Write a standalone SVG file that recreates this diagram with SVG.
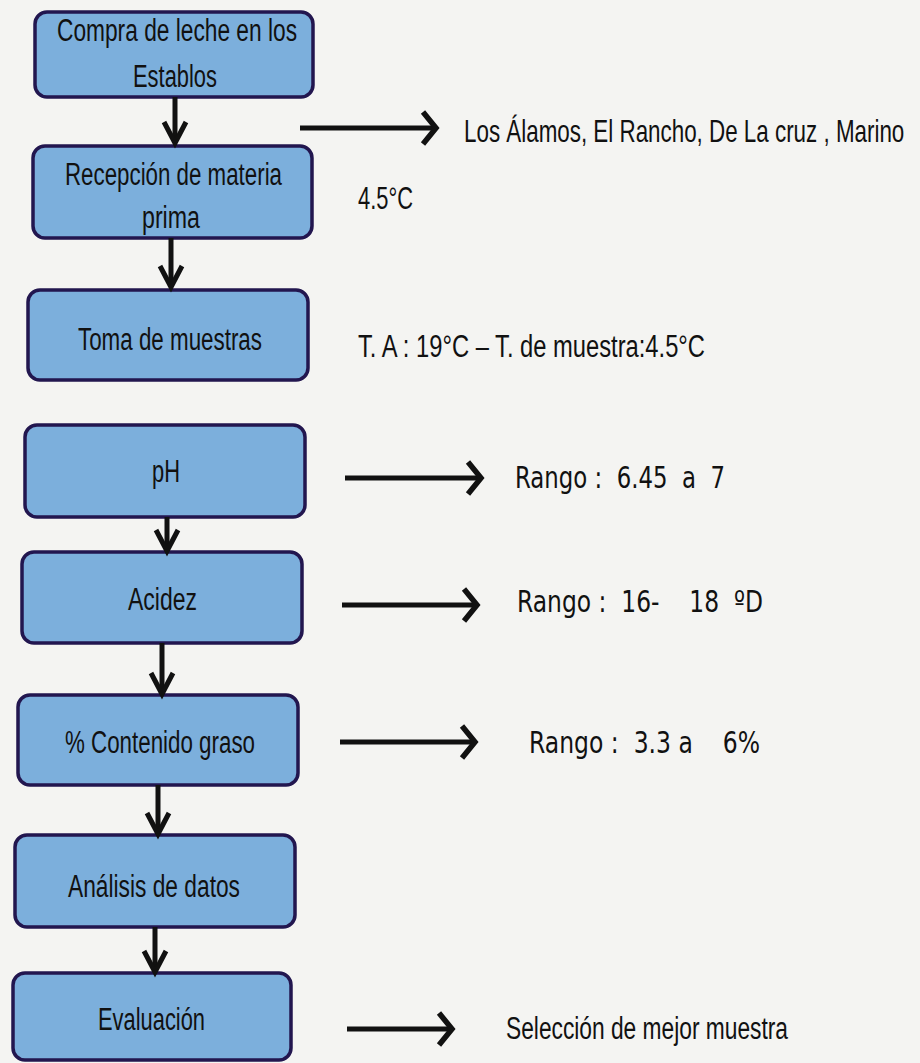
<svg xmlns="http://www.w3.org/2000/svg" width="920" height="1063" viewBox="0 0 920 1063">
<defs>
<style>
.box{fill:#7cafdc;stroke:#22164f;stroke-width:3.5}
.t{font-family:"Liberation Sans",Arial,sans-serif;font-size:31px;fill:#111}
.r{font-family:"DejaVu Sans",Verdana,sans-serif;font-size:30px;fill:#111}
.ln{stroke:#111;stroke-width:5;fill:none}
</style>
<marker id="ah" markerUnits="userSpaceOnUse" markerWidth="20" markerHeight="40" refX="14" refY="17" orient="auto" overflow="visible">
<path d="M1,1 L14,17 L1,33" fill="none" stroke="#111" stroke-width="5.5" stroke-linejoin="miter"/>
</marker>
<marker id="av" markerUnits="userSpaceOnUse" markerWidth="30" markerHeight="30" refX="22" refY="12" orient="auto" overflow="visible">
<path d="M1,1 L22,12 L1,23" fill="none" stroke="#111" stroke-width="5" stroke-linejoin="miter"/>
</marker>
</defs>
<rect width="920" height="1063" fill="#f4f4f2"/>

<g id="n1"><rect class="box" x="35" y="12" width="278" height="85" rx="12"/>
<text class="t" x="57" y="41" textLength="240" lengthAdjust="spacingAndGlyphs">Compra de leche en los</text>
<text class="t" x="133" y="87" textLength="84" lengthAdjust="spacingAndGlyphs">Establos</text></g>
<g id="n2"><rect class="box" x="33" y="146" width="279" height="92" rx="12"/>
<text class="t" x="65" y="185" textLength="217" lengthAdjust="spacingAndGlyphs">Recepción de materia</text>
<text class="t" x="142" y="228" textLength="58" lengthAdjust="spacingAndGlyphs">prima</text></g>
<g id="n3"><rect class="box" x="28" y="290" width="280" height="90" rx="12"/>
<text class="t" x="78" y="350" textLength="184" lengthAdjust="spacingAndGlyphs">Toma de muestras</text></g>
<g id="n4"><rect class="box" x="25" y="425" width="280" height="92" rx="12"/>
<text class="t" x="152" y="482" textLength="28" lengthAdjust="spacingAndGlyphs">pH</text></g>
<g id="n5"><rect class="box" x="22" y="552" width="280" height="91" rx="12"/>
<text class="t" x="128" y="610" textLength="69" lengthAdjust="spacingAndGlyphs">Acidez</text></g>
<g id="n6"><rect class="box" x="18" y="695" width="280" height="90" rx="12"/>
<text class="t" x="65" y="753" textLength="190" lengthAdjust="spacingAndGlyphs">% Contenido graso</text></g>
<g id="n7"><rect class="box" x="15" y="835" width="280" height="92" rx="12"/>
<text class="t" x="68" y="897" textLength="172" lengthAdjust="spacingAndGlyphs">Análisis de datos</text></g>
<g id="n8"><rect class="box" x="13" y="973" width="278" height="87" rx="12"/>
<text class="t" x="98" y="1030" textLength="107" lengthAdjust="spacingAndGlyphs">Evaluación</text></g>

<g id="connectors">
<line class="ln" x1="175" y1="97" x2="175" y2="143" marker-end="url(#av)"/>
<line class="ln" x1="171" y1="238" x2="171" y2="287" marker-end="url(#av)"/>
<line class="ln" x1="167" y1="517" x2="167" y2="551" marker-end="url(#av)"/>
<line class="ln" x1="162" y1="643" x2="162" y2="694" marker-end="url(#av)"/>
<line class="ln" x1="158" y1="785" x2="158" y2="834" marker-end="url(#av)"/>
<line class="ln" x1="155" y1="927" x2="155" y2="972" marker-end="url(#av)"/>
<line class="ln" x1="300" y1="128" x2="436" y2="128" marker-end="url(#ah)"/>
<line class="ln" x1="345" y1="478" x2="481" y2="478" marker-end="url(#ah)"/>
<line class="ln" x1="342" y1="605" x2="477" y2="605" marker-end="url(#ah)"/>
<line class="ln" x1="340" y1="742" x2="475" y2="742" marker-end="url(#ah)"/>
<line class="ln" x1="347" y1="1029" x2="452" y2="1029" marker-end="url(#ah)"/>
</g>

<g id="labels">
<text class="t" transform="translate(464,142) scale(0.74,1)" x="0" y="0" textLength="595" lengthAdjust="spacingAndGlyphs">Los Álamos, El Rancho, De La cruz , Marino</text>
<text class="t" x="358" y="209" textLength="55" lengthAdjust="spacingAndGlyphs">4.5°C</text>
<text class="t" x="358" y="357" textLength="347" lengthAdjust="spacingAndGlyphs">T. A : 19°C  –  T. de muestra:4.5°C</text>
<text class="r" x="515" y="488" textLength="210" lengthAdjust="spacingAndGlyphs" xml:space="preserve">Rango :  6.45  a  7</text>
<text class="r" x="517" y="612" textLength="246" lengthAdjust="spacingAndGlyphs" xml:space="preserve">Rango :  16-    18  ºD</text>
<text class="r" x="529" y="753" textLength="231" lengthAdjust="spacingAndGlyphs" xml:space="preserve">Rango :  3.3 a    6%</text>
<text class="t" x="506" y="1039" textLength="282" lengthAdjust="spacingAndGlyphs">Selección de mejor muestra</text>
</g>
</svg>
